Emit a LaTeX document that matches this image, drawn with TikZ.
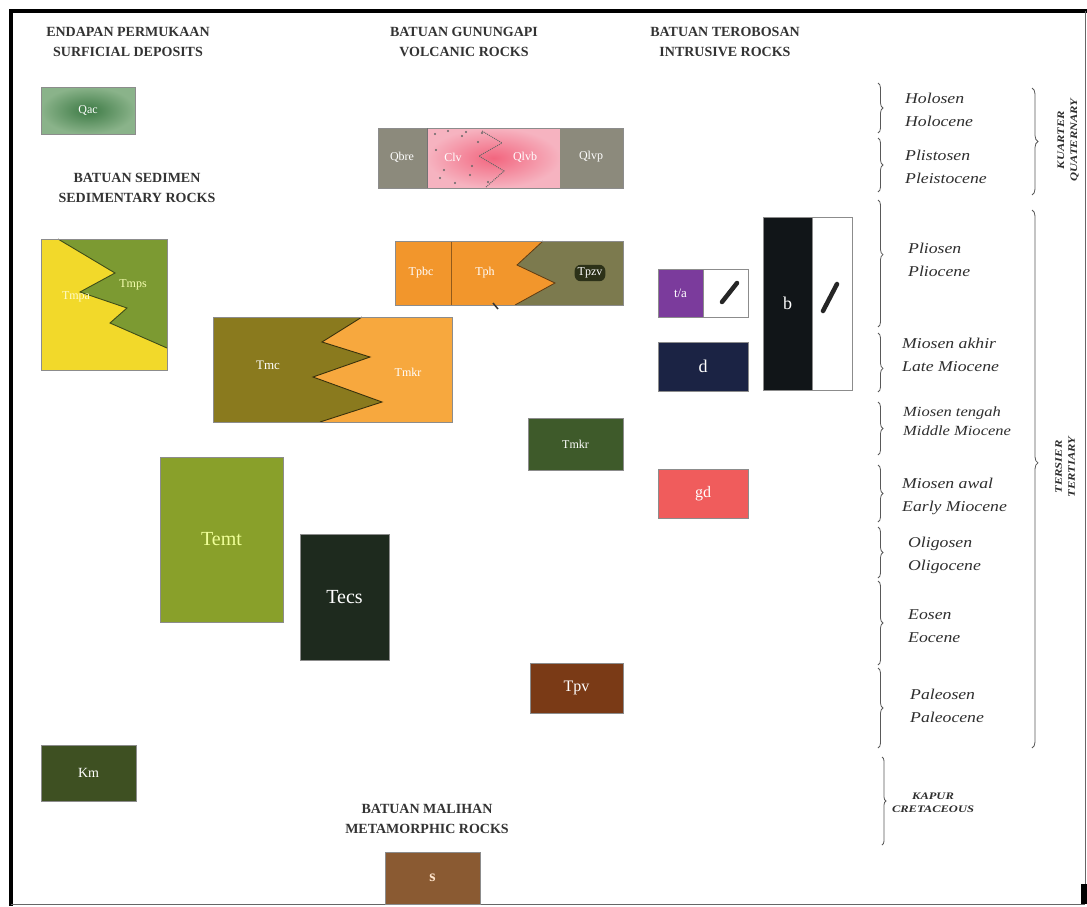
\documentclass[tikz,border=0pt]{standalone}
\usepackage{fontspec}
\setmainfont{Liberation Serif}
\newfontfamily\perfont[FakeStretch=1.18]{Liberation Serif}
\newfontfamily\capfont[FakeStretch=1.25]{Liberation Serif}
\usetikzlibrary{decorations.pathreplacing}
\definecolor{qacin}{HTML}{3D7A45}
\definecolor{qacout}{HTML}{8AB38A}
\definecolor{volgray}{HTML}{8C8A7C}
\definecolor{pinkl}{HTML}{F6B3C0}
\definecolor{pinkd}{HTML}{F2667F}
\definecolor{orng}{HTML}{F2962C}
\definecolor{orngl}{HTML}{F7A83E}
\definecolor{olivegray}{HTML}{7C7A4E}
\definecolor{olivedark}{HTML}{2C3118}
\definecolor{yell}{HTML}{F2D92A}
\definecolor{olivegreen}{HTML}{7C9A32}
\definecolor{olivebrown}{HTML}{8A7A1E}
\definecolor{tmkrgreen}{HTML}{3E5A2A}
\definecolor{temtc}{HTML}{89A02A}
\definecolor{tecsc}{HTML}{1E2A1E}
\definecolor{tpvc}{HTML}{7A3A16}
\definecolor{kmc}{HTML}{3E5022}
\definecolor{sc}{HTML}{8A5A32}
\definecolor{tac}{HTML}{7B3B9C}
\definecolor{dc}{HTML}{1B2344}
\definecolor{bc}{HTML}{111518}
\definecolor{gdc}{HTML}{F05C5C}
\definecolor{headc}{HTML}{333333}
\definecolor{perc}{HTML}{2E2E2E}
\tikzset{
  rock/.style={draw=black!45, line width=0.6pt, text=white, inner sep=0pt,
    font=\fontsize{12}{14}\selectfont},
  lab/.style={text=white, inner sep=1pt, font=\fontsize{12}{14}\selectfont},
  head/.style={align=center, text=headc, font=\fontsize{14}{20}\selectfont\bfseries},
  period/.style={anchor=west, align=left, text=perc, inner sep=0pt,
    font=\perfont\itshape\fontsize{15}{23}\selectfont},
  era/.style={align=center, text=perc, inner sep=0pt,
    font=\capfont\bfseries\itshape\fontsize{10}{13}\selectfont},
  cbrace/.style={draw=black!65, line width=0.8pt, decorate,
    decoration={brace, amplitude=5pt}},
  pencil/.style={line width=4.5pt, line cap=round, draw=black!85}
}
\begin{document}
\begin{tikzpicture}[x=1pt,y=-1pt]
\useasboundingbox (0,0) rectangle (1087,906);
\fill[white] (0,0) rectangle (1087,906);
% frame
\draw[line width=4pt] (9,11) -- (1087,11);
\draw[line width=4pt] (11,9) -- (11,906);
\draw[line width=1pt, black!60] (1085,11) -- (1085,904);
\draw[line width=1pt, black!60] (11,904) -- (1085,904);
\fill[black] (1081,884) rectangle (1087,904);

% headers
\node[head] (h1) at (128,42) {ENDAPAN PERMUKAAN\\SURFICIAL DEPOSITS};
\node[head] (h2) at (464,42) {BATUAN GUNUNGAPI\\VOLCANIC ROCKS};
\node[head] (h3) at (725,42) {BATUAN TEROBOSAN\\INTRUSIVE ROCKS};
\node[head] (h4) at (137,188) {BATUAN SEDIMEN\\SEDIMENTARY ROCKS};
\node[head] (h5) at (427,819) {BATUAN MALIHAN\\METAMORPHIC ROCKS};

% Qac
\shade[inner color=qacin, outer color=qacout] (41,87) rectangle (135,134);
\node[rock, minimum width=94pt, minimum height=47pt] (qac) at (88,110.5) {Qac};

% volcanic row
\fill[volgray] (378,128) rectangle (427,188);
\shade[inner color=pinkd, outer color=pinkl] (427,128) rectangle (560,188);
\fill[volgray] (560,128) rectangle (623,188);
\draw[black!45, line width=0.6pt] (378,128) rectangle (623,188);
\draw[black!55, line width=0.8pt] (427,128) -- (427,188);
\foreach \p in {(435,134),(448,131),(462,136),(440,178),(455,183),(470,175),(466,132),(478,142),(436,150),(472,166),(444,170),(488,182),(482,133)}
  \fill[black!60] \p circle (1.2pt);
\draw[black!60, densely dotted, line width=1pt] (482,131) -- (502,143) -- (479,156) -- (504,171) -- (486,187);
\node[lab] (qbre) at (402,157) {Qbre};
\node[lab] (clv) at (453,157) {Clv};
\node[lab] (qlvb) at (525,157) {Qlvb};
\node[lab] (qlvp) at (591,157) {Qlvp};

% Tpbc row
\fill[orng] (395,241) rectangle (623,305);
\fill[olivegray] (543,241) -- (517,265) -- (555,283) -- (515,305) -- (623,305) -- (623,241) -- cycle;
\draw[black!60!orng, line width=0.8pt] (543,241) -- (517,265) -- (555,283) -- (515,305);
\draw[black!40!orng, line width=0.8pt] (451,241) -- (451,305);
\draw[black!45, line width=0.6pt] (395,241) rectangle (623,305);
\draw[black!80, line width=1.5pt] (493,303) -- (498,309);
\node[lab] (tpbc) at (421,273) {Tpbc};
\node[lab] (tph) at (485,273) {Tph};
\node[lab, fill=olivedark, rounded corners=6pt, inner sep=3pt] (tpzv) at (590,273) {Tpzv};

% Tmps / Tmpa
\fill[yell] (41,239) rectangle (167,370);
\fill[olivegreen] (58,239) -- (115,273) -- (80,292) -- (127,308) -- (110,323) -- (167,348) -- (167,239) -- cycle;
\draw[black!50!olivegreen, line width=0.9pt] (58,239) -- (115,273) -- (80,292) -- (127,308) -- (110,323) -- (167,348);
\draw[black!45, line width=0.6pt] (41,239) rectangle (167,370);
\node[lab, text=green!10!yellow!30] (tmps) at (133,285) {Tmps};
\node[lab, text=yellow!20] (tmpa) at (76,297) {Tmpa};

% Tmc / Tmkr
\fill[olivebrown] (213,317) rectangle (452,422);
\fill[orngl] (362,317) -- (322,342) -- (370,357) -- (313,377) -- (382,402) -- (320,422) -- (452,422) -- (452,317) -- cycle;
\draw[black!60!olivebrown, line width=0.9pt] (362,317) -- (322,342) -- (370,357) -- (313,377) -- (382,402) -- (320,422);
\draw[black!45, line width=0.6pt] (213,317) rectangle (452,422);
\node[lab, font=\fontsize{13}{15}\selectfont] (tmc) at (268,365) {Tmc};
\node[lab] (tmkr1) at (408,372) {Tmkr};

% single boxes
\node[rock, fill=tmkrgreen, minimum width=95pt, minimum height=52pt] (tmkr2) at (575.5,444) {Tmkr};
\node[rock, fill=temtc, minimum width=123pt, minimum height=165pt, text=green!15!yellow!40, font=\fontsize{20}{24}\selectfont] (temt) at (221.5,539.5) {Temt};
\node[rock, fill=tecsc, minimum width=89pt, minimum height=126pt, font=\fontsize{20}{24}\selectfont] (tecs) at (344.5,597) {Tecs};
\node[rock, fill=tpvc, minimum width=93pt, minimum height=50pt, font=\fontsize{16}{18}\selectfont] (tpv) at (576.5,688) {Tpv};
\node[rock, fill=kmc, minimum width=95pt, minimum height=56pt, font=\fontsize{14}{16}\selectfont] (km) at (88.5,773) {Km};
\node[rock, fill=sc, minimum width=95pt, minimum height=52pt, font=\fontsize{16}{18}\selectfont\bfseries, text=orange!20] (s) at (432.5,878) {s};

% intrusive
\node[rock, fill=tac, minimum width=45pt, minimum height=48pt, font=\fontsize{13}{15}\selectfont] (ta) at (680.5,293) {t/a};
\node[rock, fill=white, minimum width=45pt, minimum height=48pt] (taw) at (725.5,293) {};
\draw[pencil] (722,302) -- (737,283);
\node[rock, fill=dc, minimum width=90pt, minimum height=49pt, font=\fontsize{18}{20}\selectfont] (d) at (703,366.5) {d};
\node[rock, fill=bc, minimum width=49pt, minimum height=173pt, font=\fontsize{18}{20}\selectfont] (b) at (787.5,303.5) {b};
\node[rock, fill=white, minimum width=40pt, minimum height=173pt] (bw) at (832,303.5) {};
\draw[pencil] (823,311) -- (837,284);
\node[rock, fill=gdc, minimum width=90pt, minimum height=49pt, font=\fontsize{16}{18}\selectfont] (gd) at (703,493.5) {gd};

% time scale braces
\draw[cbrace] (878,83) -- (878,133);
\draw[cbrace] (878,138) -- (878,192);
\draw[cbrace, decoration={brace, amplitude=5pt, aspect=0.43}] (878,200) -- (878,327);
\draw[cbrace, decoration={brace, amplitude=5pt, aspect=0.6}] (878,333) -- (878,392);
\draw[cbrace] (878,402) -- (878,455);
\draw[cbrace] (878,465) -- (878,522);
\draw[cbrace] (878,527) -- (878,578);
\draw[cbrace] (878,581) -- (878,665);
\draw[cbrace] (878,668) -- (878,748);
\draw[cbrace, decoration={brace, amplitude=4pt}] (882,757) -- (882,845);
\draw[cbrace, decoration={brace, amplitude=6pt}] (1032,88) -- (1032,195);
\draw[cbrace, decoration={brace, amplitude=6pt, aspect=0.47}] (1032,210) -- (1032,748);

\node[period] (hol) at (905,110) {Holosen\\Holocene};
\node[period] (ple) at (905,167) {Plistosen\\Pleistocene};
\node[period] (pli) at (908,260) {Pliosen\\Pliocene};
\node[period] (mak) at (902,355) {Miosen akhir\\Late Miocene};
\node[period, font=\perfont\itshape\fontsize{14}{19}\selectfont] (mte) at (903,421) {Miosen tengah\\Middle Miocene};
\node[period] (maw) at (902,496) {Miosen awal\\Early Miocene};
\node[period] (oli) at (908,555) {Oligosen\\Oligocene};
\node[period] (eos) at (908,626) {Eosen\\Eocene};
\node[period] (pal) at (910,706) {Paleosen\\Paleocene};
\node[era] (kap) at (933,803) {KAPUR\\CRETACEOUS};
\node[era, rotate=90] (kua) at (1068,140) {KUARTER\\QUATERNARY};
\node[era, rotate=90] (ter) at (1065,467) {TERSIER\\TERTIARY};
\end{tikzpicture}
\end{document}
